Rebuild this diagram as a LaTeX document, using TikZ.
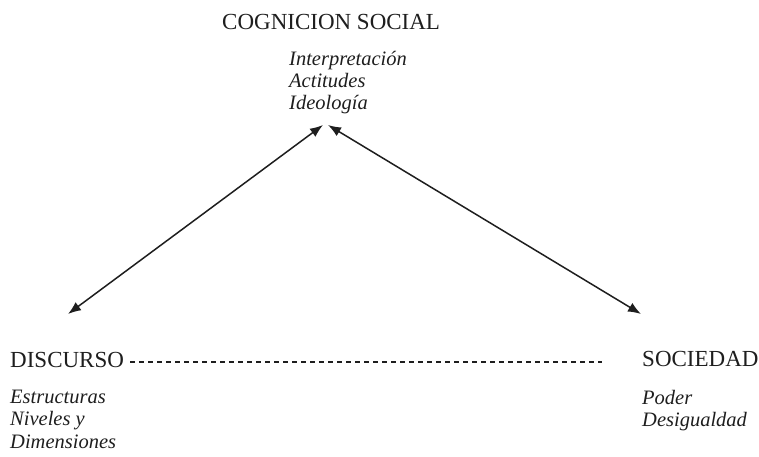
\documentclass[tikz,border=0pt]{standalone}
\usepackage{fontspec}
\setmainfont{Liberation Serif}
\usetikzlibrary{arrows.meta}
\definecolor{ink}{HTML}{1E1E1E}
\tikzset{
  head/.style={anchor=base west, inner sep=0pt, text=ink, font=\fontsize{23}{26}\selectfont},
  item/.style={anchor=base west, inner sep=0pt, text=ink, font=\fontsize{20.5}{22}\selectfont\itshape},
  link/.style={draw=ink, line width=1.5pt, {Latex[length=13pt,width=10pt]}-{Latex[length=13pt,width=10pt]}},
  dashlink/.style={draw=ink, line width=1.5pt, dash pattern=on 5pt off 4pt}
}
\begin{document}
\begin{tikzpicture}[x=1pt,y=1pt]
\useasboundingbox (0,0) rectangle (759,457);
% top
\node[head] (cog) at (222,427) {COGNICION SOCIAL};
\node[item] (interp) at (289,391) {Interpretación};
\node[item] (act) at (289,369) {Actitudes};
\node[item] (ideo) at (289,347) {Ideología};
% left
\node[head] (disc) at (10,89) {DISCURSO};
\node[item] (estr) at (10,53) {Estructuras};
\node[item] (niv) at (10,31) {Niveles y};
\node[item] (dim) at (10,9) {Dimensiones};
% right
\node[head] (soc) at (642,90) {SOCIEDAD};
\node[item] (pod) at (642,52) {Poder};
\node[item] (des) at (642,30) {Desigualdad};
% connector ends
\coordinate (topL) at (323,332);
\coordinate (topR) at (328,332);
\coordinate (discTop) at (68,143);
\coordinate (socTop) at (641,143);
\coordinate (dashEnd) at (602,95);
\draw[link] (discTop) -- (topL);
\draw[link] (topR) -- (socTop);
\draw[dashlink] ([xshift=6pt,yshift=6pt]disc.base east) -- (dashEnd);
\end{tikzpicture}
\end{document}
